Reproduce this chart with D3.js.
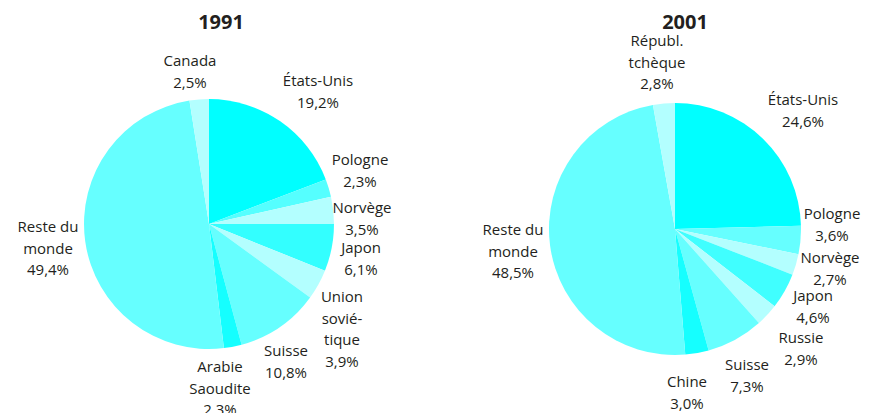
<!DOCTYPE html>
<html>
<head>
<meta charset="utf-8">
<script src="https://cdn.jsdelivr.net/npm/d3@7"></script>
<style>
  body { margin: 0; background: #fff; }
  text { font-family: "Open Sans", sans-serif; fill: #231f20; }
</style>
</head>
<body>
<div class="chart"></div>
<script>
// Data

const names1991 = ["États-Unis", "Pologne", "Norvège", "Japon", "Union\nsovié-\ntique", "Suisse", "Arabie\nSaoudite", "Reste du\nmonde", "Canada"];
const values1991 = [19.2, 2.3, 3.5, 6.1, 3.9, 10.8, 2.3, 49.4, 2.5];

const names2001 = ["États-Unis", "Pologne", "Norvège", "Japon", "Russie", "Suisse", "Chine", "Reste du\nmonde", "Républ.\ntchèque"];
const values2001 = [24.6, 3.6, 2.7, 4.6, 2.9, 7.3, 3.0, 48.5, 2.8];

// Layout

const w = 871;
const h = 413;
const lineHeight = 21.5;
const colors1991 = ["#00ffff", "#55ffff", "#b3ffff", "#33ffff", "#b3ffff", "#66ffff", "#15ffff", "#66ffff", "#b3ffff"];
const colors2001 = ["#00ffff", "#66ffff", "#b3ffff", "#40ffff", "#b3ffff", "#66ffff", "#15ffff", "#66ffff", "#b3ffff"];

// label anchor (first line centre) relative to the pie centre
const labelPos1991 = [[109, -143], [151, -64], [153, -16], [152, 24], [133, 73], [77, 127], [11, 143], [-161, 3], [-19, -163]];
const labelPos2001 = [[128, -129], [157, -15], [155, 29], [138, 67], [126, 109], [72, 136], [12, 153], [-162, 1], [-18, -188]];

const pies = [
  { title: "1991", names: names1991, values: values1991, colors: colors1991, labels: labelPos1991, cx: 209, cy: 224, r: 125, titleX: 221 },
  { title: "2001", names: names2001, values: values2001, colors: colors2001, labels: labelPos2001, cx: 675, cy: 229, r: 126, titleX: 685 },
];

const svg = d3
  .select(".chart")
  .append("svg")
  .attr("width", w)
  .attr("height", h);

const fmt = (v) => d3.format(".1f")(v).replace(".", ",") + "%";

pies.forEach((p) => {
  const pie = d3.pie().sort(null).value((d) => d);
  const arc = d3.arc().innerRadius(0).outerRadius(p.r);
  const arcs = pie(p.values);

  const g = svg.append("g").attr("transform", `translate(${p.cx}, ${p.cy})`);

  g.selectAll("path")
    .data(arcs)
    .enter()
    .append("path")
    .attr("d", arc)
    .attr("fill", (d, i) => p.colors[i]);

  // Title

  svg
    .append("text")
    .attr("x", p.titleX)
    .attr("y", 22)
    .attr("dy", "0.35em")
    .attr("text-anchor", "middle")
    .style("font-weight", "bold")
    .style("font-size", "20px")
    .text(p.title);

  // Slice labels

  const labels = g
    .selectAll("text.lbl")
    .data(arcs)
    .enter()
    .append("text")
    .attr("class", "lbl")
    .attr("text-anchor", "middle")
    .style("font-size", "15px")
    .attr("transform", (d, i) => `translate(${p.labels[i][0]}, ${p.labels[i][1]})`);

  labels.each(function (d, i) {
    const lines = p.names[i].split("\n").concat([fmt(d.data)]);
    d3.select(this)
      .selectAll("tspan")
      .data(lines)
      .enter()
      .append("tspan")
      .attr("x", 0)
      .attr("y", (t, j) => j * lineHeight)
      .attr("dy", "0.35em")
      .text((t) => t);
  });
});
</script>
</body>
</html>
